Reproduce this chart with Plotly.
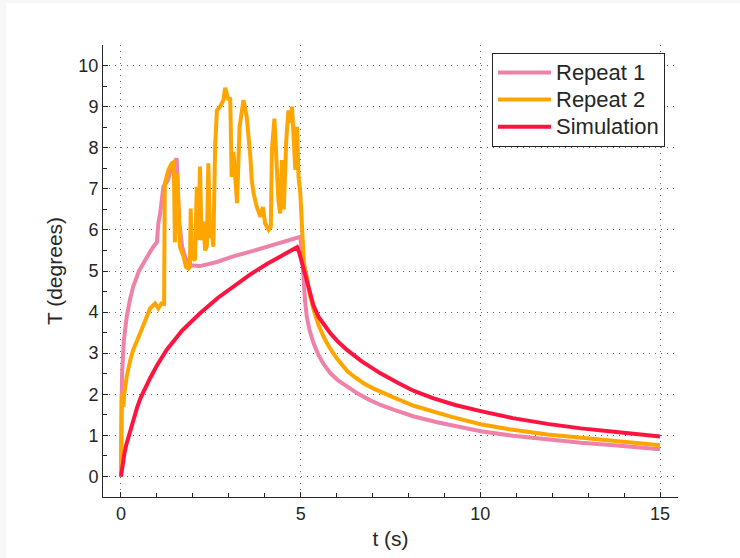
import plotly.graph_objects as go

# ---------------- data ----------------
t_rep1 = [0, 0.01, 0.03, 0.08, 0.16, 0.25, 0.34, 0.5, 0.62, 0.8, 0.9, 1.0, 1.04, 1.09, 1.18,
          1.3, 1.4, 1.5, 1.55, 1.58, 1.62, 1.7, 1.8, 1.92, 2.2, 2.67, 3.1, 3.6, 4.1, 4.53, 4.99,
          5.04, 5.08, 5.12, 5.17, 5.25, 5.36, 5.5, 5.65, 5.83, 6.05, 6.29, 6.6, 6.9, 7.22, 7.6,
          8.15, 8.8, 9.4, 10.01, 10.9, 11.87, 12.8, 13.72, 14.4, 15.0]
T_rep1 = [0, 1.5, 2.5, 3.3, 3.89, 4.3, 4.62, 5.0, 5.2, 5.45, 5.59, 5.7, 6.16, 6.4, 7.05,
          7.2, 7.5, 7.7, 7.74, 7.0, 6.2, 5.6, 5.3, 5.14, 5.12, 5.22, 5.35, 5.47, 5.6, 5.71, 5.83,
          5.4, 4.8, 4.3, 3.89, 3.55, 3.24, 2.95, 2.72, 2.51, 2.33, 2.18, 2.01, 1.87, 1.74, 1.62,
          1.46, 1.32, 1.2, 1.1, 0.99, 0.9, 0.82, 0.76, 0.71, 0.66]

t_rep2 = [0, 0.01, 0.02, 0.05, 0.07, 0.09, 0.16, 0.25, 0.34, 0.53, 0.7, 0.81, 0.95, 1.04, 1.13,
          1.2, 1.22, 1.32, 1.41, 1.47, 1.5, 1.53, 1.57, 1.64, 1.74, 1.81, 1.88, 1.92, 1.94, 1.97,
          2.06, 2.11, 2.15, 2.2, 2.24, 2.3, 2.34, 2.39, 2.43, 2.48, 2.52, 2.57, 2.62, 2.67, 2.76,
          2.85, 2.9, 2.99, 3.04, 3.08, 3.13, 3.23, 3.3, 3.41, 3.5, 3.6, 3.64, 3.69, 3.78, 3.88,
          3.95, 4.01, 4.11, 4.17, 4.2, 4.27, 4.34, 4.38, 4.43, 4.48, 4.53, 4.6, 4.66, 4.71, 4.76,
          4.8, 4.85, 4.9, 4.94, 4.99, 5.03, 5.09, 5.17, 5.25, 5.36, 5.5, 5.65, 5.8, 6.0, 6.12,
          6.3, 6.5, 6.75, 7.0, 7.22, 7.6, 8.15, 8.6, 9.2, 10.01, 10.8, 11.87, 12.8, 13.72, 14.4,
          15.0]
T_rep2 = [0, 1.0, 2.02, 1.75, 1.7, 2.0, 2.43, 2.8, 3.08, 3.48, 3.85, 4.09, 4.21, 4.09, 4.21,
          4.2, 7.13, 7.46, 7.62, 7.65, 5.7, 6.4, 7.38, 5.59, 5.35, 5.1, 5.06, 5.1, 6.52, 5.35,
          5.26, 7.05, 5.75, 7.54, 5.75, 6.2, 5.5, 5.6, 7.62, 5.8, 6.1, 5.59, 8.02, 8.91, 9.0,
          9.16, 9.46, 9.16, 9.22, 7.29, 7.9, 6.65, 8.51, 9.16, 8.75, 7.78, 7.2, 6.89, 6.56, 6.32,
          6.56, 6.16, 6.0, 6.08, 7.95, 8.71, 7.29, 6.73, 6.4, 7.7, 6.5, 8.19, 8.91, 8.6, 9.0,
          8.4, 7.46, 8.51, 7.3, 6.89, 6.0, 5.19, 4.86, 4.45, 4.05, 3.68, 3.38, 3.14, 2.88, 2.74,
          2.56, 2.42, 2.27, 2.15, 2.06, 1.92, 1.72, 1.6, 1.45, 1.27, 1.15, 1.02, 0.94, 0.87, 0.82,
          0.76]

t_sim = [0, 0.05, 0.1, 0.15, 0.25, 0.35, 0.45, 0.55, 0.65, 0.81, 1.0, 1.27, 1.7, 2.2, 2.7, 3.2,
         3.6, 4.06, 4.5, 4.9, 4.96, 5.03, 5.1, 5.17, 5.26, 5.36, 5.5, 5.65, 5.83, 6.05, 6.29,
         6.7, 7.22, 7.7, 8.15, 8.7, 9.3, 10.01, 10.9, 11.87, 12.8, 13.72, 14.4, 15.0]
T_sim = [0, 0.35, 0.58, 0.78, 1.1, 1.42, 1.68, 1.92, 2.12, 2.39, 2.7, 3.08, 3.55, 3.97, 4.35,
         4.68, 4.92, 5.17, 5.38, 5.58, 5.45, 5.22, 4.95, 4.7, 4.4, 4.15, 3.88, 3.68, 3.48, 3.27,
         3.08, 2.8, 2.51, 2.28, 2.08, 1.9, 1.74, 1.59, 1.42, 1.28, 1.17, 1.09, 1.03, 0.97]

series_names = ["Repeat 1", "Repeat 2", "Simulation"]
series_colors = ["#ee82a8", "#ffa500", "#ff1440"]

x_ticks = [0, 5, 10, 15]
y_ticks = list(range(0, 11))

# ---------------- figure ----------------
W, H = 740, 558
L, R, T, B = 103, 62, 45, 61
pw, ph = W - L - R, H - T - B
FONT = "Liberation Sans, Arial, sans-serif"


def px2paper_x(px):
    return (px - L) / pw


def px2paper_y(py):
    return (H - B - py) / ph


fig = go.Figure()
for tx, ty, name, col in zip([t_rep1, t_rep2, t_sim], [T_rep1, T_rep2, T_sim],
                             series_names, series_colors):
    fig.add_trace(go.Scatter(x=tx, y=ty, mode="lines",
                             name='<span style="font-size:22px">' + name + "</span>",
                             line=dict(color=col, width=4)))

axis_common = dict(
    showline=True, linecolor="#262626", linewidth=1, mirror=False,
    ticks="inside", ticklen=5, tickcolor="#262626", tickwidth=1,
    showgrid=True, gridcolor="#666666", gridwidth=1, griddash="1px,5px",
    zeroline=False,
    tickfont=dict(family=FONT, size=18, color="#262626"),
)

fig.update_layout(
    width=W, height=H,
    margin=dict(l=L, r=R, t=T, b=B, autoexpand=False),
    paper_bgcolor="#f7f7f7", plot_bgcolor="white",
    showlegend=True,
    legend=dict(x=px2paper_x(492), y=px2paper_y(53), xanchor="left", yanchor="top",
                bgcolor="white", bordercolor="#262626", borderwidth=1,
                font=dict(family=FONT, size=18.5, color="#262626"),
                itemwidth=53, tracegroupgap=0),
    xaxis=dict(axis_common, range=[-0.5, 15.5], tickvals=x_ticks,
               minor=dict(dtick=1, ticks="inside", ticklen=4, tickcolor="#262626", showgrid=False),
               title=dict(text="t (s)", standoff=8,
                          font=dict(family=FONT, size=21, color="#262626"))),
    yaxis=dict(axis_common, range=[-0.5, 10.5], tickvals=y_ticks,
               minor=dict(dtick=0.5, ticks="inside", ticklen=4, tickcolor="#262626", showgrid=False),
               title=dict(text="T (degrees)", standoff=10,
                          font=dict(family=FONT, size=21, color="#262626"))),
    shapes=[dict(type="rect", xref="paper", yref="paper", layer="below",
                 x0=px2paper_x(6), x1=px2paper_x(W + 5), y0=px2paper_y(3), y1=px2paper_y(H + 5),
                 fillcolor="white", line=dict(width=0))],
)

fig.write_html("out.html")
